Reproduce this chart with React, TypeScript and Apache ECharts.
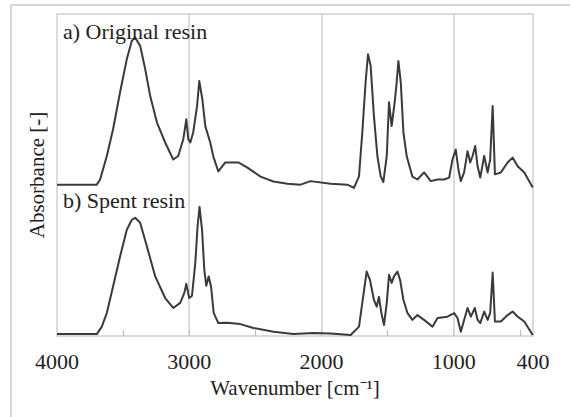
import React, { useEffect, useRef } from "react";
import * as echarts from "echarts";

// a) Original resin
const originalWn = [4000, 3699, 3674, 3623, 3576, 3523, 3472, 3434, 3409, 3371, 3333, 3295, 3244, 3182, 3121, 3083, 3045, 3022, 3007, 2992, 2970, 2941, 2924, 2901, 2878, 2841, 2818, 2780, 2727, 2628, 2560, 2461, 2363, 2257, 2158, 2083, 1931, 1804, 1754, 1716, 1691, 1666, 1648, 1628, 1603, 1577, 1552, 1532, 1506, 1489, 1469, 1446, 1431, 1418, 1400, 1380, 1355, 1312, 1274, 1224, 1173, 1122, 1072, 1034, 1009, 984, 964, 946, 921, 895, 875, 857, 837, 819, 799, 769, 743, 724, 705, 688, 643, 592, 554, 516, 466, 402];
const originalAbs = [47.0, 47.0, 48.6, 55.9, 64.2, 75.7, 86.0, 91.7, 92.7, 90.1, 82.9, 74.5, 66.3, 60.1, 54.8, 55.9, 61.1, 67.3, 61.1, 60.1, 63.2, 71.3, 79.2, 73.6, 65.1, 60.1, 55.8, 51.1, 53.9, 53.9, 52.3, 49.5, 48.0, 47.3, 47.0, 48.1, 47.3, 47.0, 46.0, 49.6, 63.2, 78.8, 87.5, 83.9, 68.3, 55.9, 49.6, 47.8, 55.9, 72.6, 65.2, 72.6, 78.8, 85.4, 78.8, 63.2, 55.8, 49.5, 48.6, 50.8, 48.1, 48.6, 48.6, 49.2, 54.8, 57.9, 51.7, 48.1, 50.8, 57.4, 53.9, 55.9, 59.0, 52.7, 49.2, 55.9, 50.8, 54.8, 71.4, 50.2, 50.8, 53.9, 55.4, 52.7, 50.8, 46.1];

// b) Spent resin
const spentWn = [4000, 3699, 3661, 3623, 3576, 3523, 3472, 3434, 3409, 3371, 3320, 3257, 3182, 3121, 3068, 3037, 3022, 3000, 2979, 2954, 2937, 2922, 2903, 2886, 2871, 2853, 2835, 2815, 2780, 2714, 2613, 2515, 2363, 2211, 2060, 1931, 1779, 1716, 1691, 1658, 1633, 1603, 1582, 1565, 1547, 1527, 1506, 1489, 1469, 1451, 1425, 1405, 1380, 1350, 1312, 1274, 1224, 1160, 1122, 1047, 996, 971, 946, 921, 895, 870, 840, 819, 799, 769, 743, 724, 705, 688, 643, 592, 554, 516, 466, 402];
const spentAbs = [0.6, 0.6, 2.9, 7.2, 15.4, 24.7, 33.0, 36.1, 36.7, 35.2, 27.8, 18.5, 11.8, 8.7, 10.3, 13.4, 16.2, 11.8, 12.5, 22.7, 34.0, 40.1, 33.0, 20.6, 15.6, 18.5, 15.4, 7.2, 4.0, 4.1, 3.7, 2.5, 1.3, 0.6, 0.9, 0.8, 0.3, 2.9, 10.3, 20.0, 17.4, 11.2, 9.1, 12.2, 7.2, 3.4, 10.3, 19.0, 16.5, 18.5, 20.0, 17.4, 11.2, 7.2, 5.0, 6.5, 5.0, 2.9, 5.6, 6.0, 7.1, 5.6, 1.3, 5.0, 8.7, 6.0, 8.7, 5.0, 4.0, 7.6, 5.0, 7.1, 19.7, 4.5, 4.5, 6.5, 7.6, 6.0, 4.5, 0.3];

const xLabelValues = [4000, 3000, 2000, 1000, 400];
const xTickValues = [3500, 3000, 2500, 2000, 1500, 1000, 500];
const gridValues = [3000, 2000, 1000];
const traceLabels = ["a) Original resin", "b) Spent resin"];

const zip = (xs: number[], ys: number[]) => xs.map((x, i) => [x, ys[i]]);

export default function App() {
  const ref = useRef<HTMLDivElement>(null);
  useEffect(() => {
    if (!ref.current) return;
    const chart = echarts.init(ref.current, null, { renderer: "svg" });
    const font = "'Liberation Serif', 'Times New Roman', serif";
    const textColor = "#222";
    const lineStyle = { color: "#3a3a3a", width: 2, join: "round" as const };
    chart.setOption({
      animation: false,
      backgroundColor: "#fff",
      grid: { left: 57, right: 40, top: 14, bottom: 81, show: true, borderColor: "#cfcfcf", borderWidth: 1.5 },
      xAxis: {
        type: "value",
        inverse: true,
        min: 400,
        max: 4000,
        name: "Wavenumber [cm⁻¹]",
        nameLocation: "middle",
        nameGap: 41,
        nameTextStyle: { fontFamily: font, fontSize: 21, color: textColor },
        axisLine: { show: false },
        axisTick: { show: true, inside: true, length: 6, customValues: xTickValues, lineStyle: { color: "#bdbdbd", width: 1.2 } },
        axisLabel: { customValues: xLabelValues, formatter: (v: number) => String(v), margin: 14, fontFamily: font, fontSize: 22, color: textColor },
        splitLine: { show: false },
      },
      yAxis: {
        type: "value",
        min: 0,
        max: 100,
        name: "Absorbance [-]",
        nameLocation: "middle",
        nameGap: 10,
        nameTextStyle: { fontFamily: font, fontSize: 21, color: textColor },
        axisLine: { show: false },
        axisTick: { show: false },
        axisLabel: { show: false },
        splitLine: { show: false },
      },
      series: [
        {
          type: "line",
          data: zip(originalWn, originalAbs),
          showSymbol: false,
          symbol: "none",
          lineStyle,
          z: 3,
          markLine: {
            silent: true,
            symbol: "none",
            label: { show: false },
            lineStyle: { color: "#cfcfcf", width: 1.5, type: "solid" },
            data: gridValues.map((v) => ({ xAxis: v })),
            z: 1,
          },
        },
        {
          type: "line",
          data: zip(spentWn, spentAbs),
          showSymbol: false,
          symbol: "none",
          lineStyle,
          z: 3,
        },
      ],
      graphic: [
        { type: "line", shape: { x1: 11, y1: 5, x2: 570, y2: 5 }, style: { stroke: "#c8c8c8", lineWidth: 1.5 } },
        { type: "line", shape: { x1: 11, y1: 5, x2: 11, y2: 417 }, style: { stroke: "#c8c8c8", lineWidth: 1.5 } },
        { type: "text", x: 63, y: 31, style: { text: traceLabels[0], font: `22px ${font}`, fill: textColor, verticalAlign: "middle" }, z: 10 },
        { type: "text", x: 63, y: 200, style: { text: traceLabels[1], font: `22px ${font}`, fill: textColor, verticalAlign: "middle" }, z: 10 },
      ],
    });
    return () => chart.dispose();
  }, []);
  return <div ref={ref} style={{ width: 573, height: 417, position: "absolute", left: 0, top: 0 }} />;
}
